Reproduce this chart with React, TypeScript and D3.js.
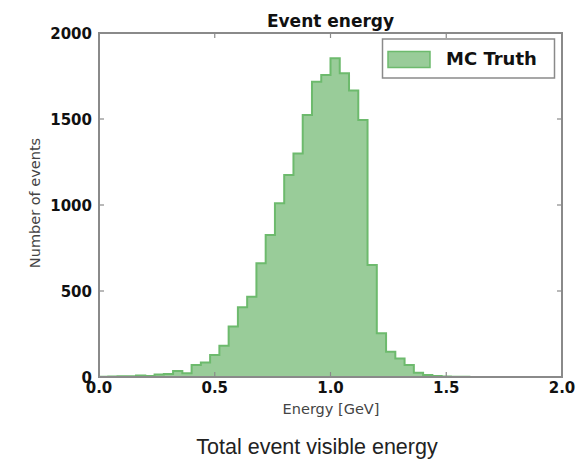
import React from "react";
import * as d3 from "d3";

// histogram of event energy, 50 bins of 0.04 GeV from 0 to 2
const binWidth = 0.04;
const counts = [
  2, 3, 4, 5, 8, 6, 15, 18, 35, 22,
  70, 85, 128, 182, 293, 405, 467, 661, 826, 1010,
  1174, 1300, 1523, 1717, 1756, 1853, 1766, 1666, 1494, 651,
  254, 147, 108, 70, 25, 12, 6, 3, 2, 1,
  0, 0, 0, 0, 0, 0, 0, 0, 0, 0,
];
const xTicks = [0, 0.5, 1.0, 1.5, 2.0];
const yTicks = [0, 500, 1000, 1500, 2000];
const seriesName = "MC Truth";

const W = 587;
const H = 459;
const left = 99, right = 562, top = 33, bottom = 377;

export default function App() {
  const x = d3.scaleLinear().domain([0, 2]).range([left, right]);
  const y = d3.scaleLinear().domain([0, 2000]).range([bottom, top]);

  // step points for the histogram outline
  const pts: [number, number][] = [];
  counts.forEach((c, i) => {
    pts.push([i * binWidth, c]);
    pts.push([(i + 1) * binWidth, c]);
  });

  const area = d3.area<[number, number]>()
    .x(d => x(d[0]))
    .y0(y(0))
    .y1(d => y(d[1]));
  const line = d3.line<[number, number]>()
    .x(d => x(d[0]))
    .y(d => y(d[1]));
  const outline: [number, number][] = [[0, 0], ...pts, [2, 0]];

  const tickFont = "DejaVu Sans, sans-serif";
  const frame = "#8a8a8a";

  return (
    <svg width={W} height={H} style={{ position: "absolute", left: 0, top: 0 }}
      fontFamily={tickFont}>
      <rect width={W} height={H} fill="white" />

      {/* histogram */}
      <path d={area(pts) || ""} fill="#99cc99" />
      <path d={line(outline) || ""} fill="none" stroke="#6dba6d" strokeWidth={2} />
      <line x1={left} x2={right} y1={bottom} y2={bottom} stroke="#3e8e3e" strokeWidth={2} />

      {/* frame */}
      <rect x={left} y={top} width={right - left} height={bottom - top}
        fill="none" stroke={frame} strokeWidth={2} />

      {/* ticks */}
      {xTicks.map(t => (
        <g key={"x" + t}>
          <line x1={x(t)} x2={x(t)} y1={bottom} y2={bottom - 5} stroke={frame} strokeWidth={1.2} />
          <line x1={x(t)} x2={x(t)} y1={top} y2={top + 5} stroke={frame} strokeWidth={1.2} />
          <text x={x(t)} y={bottom + 16} textAnchor="middle" fontSize={15}
            fontWeight="bold" fill="#111">{t.toFixed(1)}</text>
        </g>
      ))}
      {yTicks.map(t => (
        <g key={"y" + t}>
          <line x1={left} x2={left + 5} y1={y(t)} y2={y(t)} stroke={frame} strokeWidth={1.2} />
          <line x1={right} x2={right - 5} y1={y(t)} y2={y(t)} stroke={frame} strokeWidth={1.2} />
          <text x={92} y={y(t) + 5.5} textAnchor="end" fontSize={15}
            fontWeight="bold" fill="#111">{t}</text>
        </g>
      ))}

      {/* labels */}
      <text x={(left + right) / 2} y={27} textAnchor="middle" fontSize={17}
        fontWeight="bold" fill="#111">Event energy</text>
      <text x={331} y={414} textAnchor="middle" fontSize={14.5} fill="#444">Energy [GeV]</text>
      <text transform={`translate(40,203) rotate(-90)`}
        textAnchor="middle" fontSize={14.5} fill="#444">Number of events</text>

      {/* legend */}
      <rect x={382.5} y={39} width={172} height={39} fill="white" stroke={frame} strokeWidth={1.5} />
      <rect x={388} y={51.5} width={42} height={16} fill="#99cc99" stroke="#6dba6d" strokeWidth={1.5} />
      <text x={446} y={65} fontSize={18} fontWeight="bold" fill="#111">{seriesName}</text>

      {/* caption */}
      <text x={317} y={454} textAnchor="middle" fontSize={21.5}
        fontFamily="Liberation Sans, Arial, sans-serif" fill="#222">Total event visible energy</text>
    </svg>
  );
}
